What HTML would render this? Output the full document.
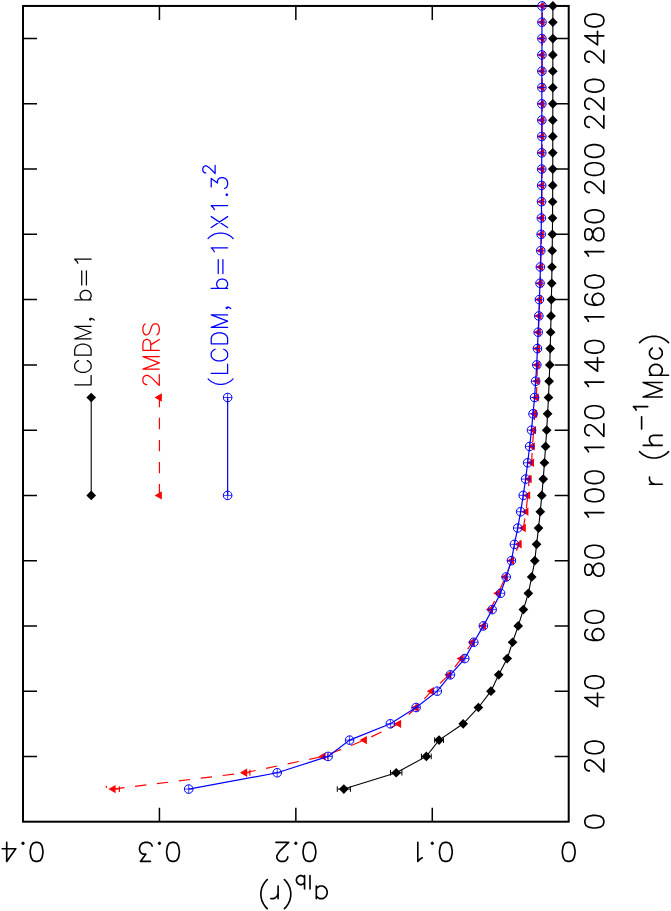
<!DOCTYPE html>
<html><head><meta charset="utf-8"><title>a_lb(r)</title>
<style>
html,body{margin:0;padding:0;background:#fff;font-family:"Liberation Sans",sans-serif;}
svg{display:block;}
</style></head>
<body>
<svg width="671" height="911" viewBox="0 0 671 911">
<rect width="671" height="911" fill="#fff"/>
<rect x="23.00" y="5.95" width="545.70" height="815.75" fill="none" stroke="#000" stroke-width="2"/>
<path d="M568.70 756.44 H554.70 M23.00 756.44 H37.00 M568.70 691.18 H554.70 M23.00 691.18 H37.00 M568.70 625.92 H554.70 M23.00 625.92 H37.00 M568.70 560.66 H554.70 M23.00 560.66 H37.00 M568.70 495.40 H554.70 M23.00 495.40 H37.00 M568.70 430.14 H554.70 M23.00 430.14 H37.00 M568.70 364.88 H554.70 M23.00 364.88 H37.00 M568.70 299.62 H554.70 M23.00 299.62 H37.00 M568.70 234.36 H554.70 M23.00 234.36 H37.00 M568.70 169.10 H554.70 M23.00 169.10 H37.00 M568.70 103.84 H554.70 M23.00 103.84 H37.00 M568.70 38.58 H554.70 M23.00 38.58 H37.00 M432.28 821.70 V807.70 M432.28 5.95 V19.95 M295.85 821.70 V807.70 M295.85 5.95 V19.95 M159.43 821.70 V807.70 M159.43 5.95 V19.95" fill="none" stroke="#000" stroke-width="1.5"/>
<path d="M584.85 822.61 L585.75 825.32 L588.47 827.13 L592.99 828.04 L595.71 828.04 L600.23 827.13 L602.95 825.32 L603.85 822.61 L603.85 820.80 L602.95 818.08 L600.23 816.27 L595.71 815.37 L592.99 815.37 L588.47 816.27 L585.75 818.08 L584.85 820.80 L584.85 822.61 M589.37 770.92 L588.47 770.92 L586.65 770.02 L585.75 769.11 L584.85 767.30 L584.85 763.68 L585.75 761.87 L586.65 760.97 L588.47 760.06 L590.27 760.06 L592.09 760.97 L594.80 762.78 L603.85 771.83 L603.85 759.16 M584.85 748.30 L585.75 751.01 L588.47 752.82 L592.99 753.73 L595.71 753.73 L600.23 752.82 L602.95 751.01 L603.85 748.30 L603.85 746.49 L602.95 743.77 L600.23 741.96 L595.71 741.06 L592.99 741.06 L588.47 741.96 L585.75 743.77 L584.85 746.49 L584.85 748.30 M584.85 697.52 L597.51 706.57 L597.51 692.99 M584.85 697.52 L603.85 697.52 M584.85 683.04 L585.75 685.75 L588.47 687.56 L592.99 688.47 L595.71 688.47 L600.23 687.56 L602.95 685.75 L603.85 683.04 L603.85 681.23 L602.95 678.51 L600.23 676.70 L595.71 675.80 L592.99 675.80 L588.47 676.70 L585.75 678.51 L584.85 681.23 L584.85 683.04 M587.56 629.54 L585.75 630.45 L584.85 633.16 L584.85 634.97 L585.75 637.69 L588.47 639.50 L592.99 640.40 L597.51 640.40 L601.13 639.50 L602.95 637.69 L603.85 634.97 L603.85 634.07 L602.95 631.35 L601.13 629.54 L598.42 628.64 L597.51 628.64 L594.80 629.54 L592.99 631.35 L592.09 634.07 L592.09 634.97 L592.99 637.69 L594.80 639.50 L597.51 640.40 M584.85 617.78 L585.75 620.49 L588.47 622.30 L592.99 623.21 L595.71 623.21 L600.23 622.30 L602.95 620.49 L603.85 617.78 L603.85 615.97 L602.95 613.25 L600.23 611.44 L595.71 610.54 L592.99 610.54 L588.47 611.44 L585.75 613.25 L584.85 615.97 L584.85 617.78 M584.85 571.52 L585.75 574.24 L587.56 575.14 L589.37 575.14 L591.18 574.24 L592.09 572.43 L592.99 568.81 L593.89 566.09 L595.71 564.28 L597.51 563.38 L600.23 563.38 L602.04 564.28 L602.95 565.19 L603.85 567.90 L603.85 571.52 L602.95 574.24 L602.04 575.14 L600.23 576.05 L597.51 576.05 L595.71 575.14 L593.89 573.33 L592.99 570.62 L592.09 567.00 L591.18 565.19 L589.37 564.28 L587.56 564.28 L585.75 565.19 L584.85 567.90 L584.85 571.52 M584.85 552.52 L585.75 555.23 L588.47 557.04 L592.99 557.95 L595.71 557.95 L600.23 557.04 L602.95 555.23 L603.85 552.52 L603.85 550.71 L602.95 547.99 L600.23 546.18 L595.71 545.28 L592.99 545.28 L588.47 546.18 L585.75 547.99 L584.85 550.71 L584.85 552.52 M588.47 517.12 L587.56 515.31 L584.85 512.60 L603.85 512.60 M584.85 496.31 L585.75 499.02 L588.47 500.83 L592.99 501.74 L595.71 501.74 L600.23 500.83 L602.95 499.02 L603.85 496.31 L603.85 494.50 L602.95 491.78 L600.23 489.97 L595.71 489.07 L592.99 489.07 L588.47 489.97 L585.75 491.78 L584.85 494.50 L584.85 496.31 M584.85 478.21 L585.75 480.92 L588.47 482.73 L592.99 483.64 L595.71 483.64 L600.23 482.73 L602.95 480.92 L603.85 478.21 L603.85 476.40 L602.95 473.68 L600.23 471.87 L595.71 470.97 L592.99 470.97 L588.47 471.87 L585.75 473.68 L584.85 476.40 L584.85 478.21 M588.47 451.86 L587.56 450.05 L584.85 447.34 L603.85 447.34 M589.37 435.57 L588.47 435.57 L586.65 434.67 L585.75 433.76 L584.85 431.95 L584.85 428.33 L585.75 426.52 L586.65 425.62 L588.47 424.71 L590.27 424.71 L592.09 425.62 L594.80 427.43 L603.85 436.48 L603.85 423.81 M584.85 412.95 L585.75 415.66 L588.47 417.47 L592.99 418.38 L595.71 418.38 L600.23 417.47 L602.95 415.66 L603.85 412.95 L603.85 411.14 L602.95 408.42 L600.23 406.61 L595.71 405.71 L592.99 405.71 L588.47 406.61 L585.75 408.42 L584.85 411.14 L584.85 412.95 M588.47 386.60 L587.56 384.79 L584.85 382.08 L603.85 382.08 M584.85 362.17 L597.51 371.22 L597.51 357.64 M584.85 362.17 L603.85 362.17 M584.85 347.69 L585.75 350.40 L588.47 352.21 L592.99 353.12 L595.71 353.12 L600.23 352.21 L602.95 350.40 L603.85 347.69 L603.85 345.88 L602.95 343.16 L600.23 341.35 L595.71 340.45 L592.99 340.45 L588.47 341.35 L585.75 343.16 L584.85 345.88 L584.85 347.69 M588.47 321.34 L587.56 319.53 L584.85 316.81 L603.85 316.81 M587.56 294.19 L585.75 295.10 L584.85 297.81 L584.85 299.62 L585.75 302.33 L588.47 304.14 L592.99 305.05 L597.51 305.05 L601.13 304.14 L602.95 302.33 L603.85 299.62 L603.85 298.72 L602.95 296.00 L601.13 294.19 L598.42 293.29 L597.51 293.29 L594.80 294.19 L592.99 296.00 L592.09 298.72 L592.09 299.62 L592.99 302.33 L594.80 304.14 L597.51 305.05 M584.85 282.43 L585.75 285.14 L588.47 286.95 L592.99 287.86 L595.71 287.86 L600.23 286.95 L602.95 285.14 L603.85 282.43 L603.85 280.62 L602.95 277.90 L600.23 276.09 L595.71 275.19 L592.99 275.19 L588.47 276.09 L585.75 277.90 L584.85 280.62 L584.85 282.43 M588.47 256.08 L587.56 254.27 L584.85 251.56 L603.85 251.56 M584.85 236.17 L585.75 238.89 L587.56 239.79 L589.37 239.79 L591.18 238.89 L592.09 237.08 L592.99 233.46 L593.89 230.74 L595.71 228.93 L597.51 228.03 L600.23 228.03 L602.04 228.93 L602.95 229.84 L603.85 232.55 L603.85 236.17 L602.95 238.89 L602.04 239.79 L600.23 240.70 L597.51 240.70 L595.71 239.79 L593.89 237.98 L592.99 235.27 L592.09 231.65 L591.18 229.84 L589.37 228.93 L587.56 228.93 L585.75 229.84 L584.85 232.55 L584.85 236.17 M584.85 217.17 L585.75 219.88 L588.47 221.69 L592.99 222.60 L595.71 222.60 L600.23 221.69 L602.95 219.88 L603.85 217.17 L603.85 215.36 L602.95 212.64 L600.23 210.83 L595.71 209.93 L592.99 209.93 L588.47 210.83 L585.75 212.64 L584.85 215.36 L584.85 217.17 M589.37 192.63 L588.47 192.63 L586.65 191.73 L585.75 190.82 L584.85 189.01 L584.85 185.39 L585.75 183.58 L586.65 182.68 L588.47 181.77 L590.27 181.77 L592.09 182.68 L594.80 184.49 L603.85 193.54 L603.85 180.87 M584.85 170.01 L585.75 172.72 L588.47 174.53 L592.99 175.44 L595.71 175.44 L600.23 174.53 L602.95 172.72 L603.85 170.01 L603.85 168.20 L602.95 165.48 L600.23 163.67 L595.71 162.77 L592.99 162.77 L588.47 163.67 L585.75 165.48 L584.85 168.20 L584.85 170.01 M584.85 151.91 L585.75 154.62 L588.47 156.43 L592.99 157.34 L595.71 157.34 L600.23 156.43 L602.95 154.62 L603.85 151.91 L603.85 150.10 L602.95 147.38 L600.23 145.57 L595.71 144.67 L592.99 144.67 L588.47 145.57 L585.75 147.38 L584.85 150.10 L584.85 151.91 M589.37 127.37 L588.47 127.37 L586.65 126.47 L585.75 125.56 L584.85 123.75 L584.85 120.13 L585.75 118.32 L586.65 117.42 L588.47 116.51 L590.27 116.51 L592.09 117.42 L594.80 119.23 L603.85 128.28 L603.85 115.61 M589.37 109.27 L588.47 109.27 L586.65 108.37 L585.75 107.46 L584.85 105.65 L584.85 102.03 L585.75 100.22 L586.65 99.32 L588.47 98.41 L590.27 98.41 L592.09 99.32 L594.80 101.13 L603.85 110.18 L603.85 97.51 M584.85 86.65 L585.75 89.36 L588.47 91.17 L592.99 92.08 L595.71 92.08 L600.23 91.17 L602.95 89.36 L603.85 86.65 L603.85 84.84 L602.95 82.12 L600.23 80.31 L595.71 79.41 L592.99 79.41 L588.47 80.31 L585.75 82.12 L584.85 84.84 L584.85 86.65 M589.37 62.11 L588.47 62.11 L586.65 61.21 L585.75 60.30 L584.85 58.49 L584.85 54.87 L585.75 53.06 L586.65 52.16 L588.47 51.25 L590.27 51.25 L592.09 52.16 L594.80 53.97 L603.85 63.02 L603.85 50.35 M584.85 35.87 L597.51 44.92 L597.51 31.34 M584.85 35.87 L603.85 35.87 M584.85 21.39 L585.75 24.10 L588.47 25.91 L592.99 26.82 L595.71 26.82 L600.23 25.91 L602.95 24.10 L603.85 21.39 L603.85 19.58 L602.95 16.86 L600.23 15.05 L595.71 14.15 L592.99 14.15 L588.47 15.05 L585.75 16.86 L584.85 19.58 L584.85 21.39 M569.61 861.40 L572.32 860.50 L574.13 857.78 L575.04 853.26 L575.04 850.54 L574.13 846.02 L572.32 843.30 L569.61 842.40 L567.80 842.40 L565.08 843.30 L563.27 846.02 L562.37 850.54 L562.37 853.26 L563.27 857.78 L565.08 860.50 L567.80 861.40 L569.61 861.40 M446.76 861.40 L449.47 860.50 L451.28 857.78 L452.19 853.26 L452.19 850.54 L451.28 846.02 L449.47 843.30 L446.76 842.40 L444.95 842.40 L442.23 843.30 L440.42 846.02 L439.52 850.54 L439.52 853.26 L440.42 857.78 L442.23 860.50 L444.95 861.40 L446.76 861.40 M432.28 844.21 L433.18 843.30 L432.28 842.40 L431.37 843.30 L432.28 844.21 M422.32 857.78 L420.51 858.69 L417.80 861.40 L417.80 842.40 M310.33 861.40 L313.05 860.50 L314.86 857.78 L315.76 853.26 L315.76 850.54 L314.86 846.02 L313.05 843.30 L310.33 842.40 L308.52 842.40 L305.81 843.30 L304.00 846.02 L303.09 850.54 L303.09 853.26 L304.00 857.78 L305.81 860.50 L308.52 861.40 L310.33 861.40 M295.85 844.21 L296.75 843.30 L295.85 842.40 L294.95 843.30 L295.85 844.21 M287.71 856.88 L287.71 857.78 L286.80 859.60 L285.90 860.50 L284.09 861.40 L280.47 861.40 L278.66 860.50 L277.75 859.60 L276.85 857.78 L276.85 855.98 L277.75 854.16 L279.56 851.45 L288.61 842.40 L275.94 842.40 M173.91 861.40 L176.62 860.50 L178.43 857.78 L179.34 853.26 L179.34 850.54 L178.43 846.02 L176.62 843.30 L173.91 842.40 L172.10 842.40 L169.38 843.30 L167.57 846.02 L166.67 850.54 L166.67 853.26 L167.57 857.78 L169.38 860.50 L172.10 861.40 L173.91 861.40 M159.43 844.21 L160.33 843.30 L159.43 842.40 L158.52 843.30 L159.43 844.21 M150.38 861.40 L140.42 861.40 L145.85 854.16 L143.14 854.16 L141.33 853.26 L140.42 852.36 L139.52 849.64 L139.52 847.83 L140.42 845.12 L142.23 843.30 L144.95 842.40 L147.66 842.40 L150.38 843.30 L151.28 844.21 L152.19 846.02 M37.48 861.40 L40.20 860.50 L42.00 857.78 L42.91 853.26 L42.91 850.54 L42.00 846.02 L40.20 843.30 L37.48 842.40 L35.67 842.40 L32.95 843.30 L31.14 846.02 L30.24 850.54 L30.24 853.26 L31.15 857.78 L32.95 860.50 L35.67 861.40 L37.48 861.40 M23.00 844.21 L23.91 843.30 L23.00 842.40 L22.09 843.30 L23.00 844.21 M6.71 861.40 L15.76 848.74 L2.18 848.74 M6.71 861.40 L6.71 842.40 M649.53 484.28 L662.20 484.28 M654.96 484.28 L652.25 483.38 L650.44 481.56 L649.53 479.75 L649.53 477.04 M639.58 451.70 L641.38 453.51 L644.10 455.32 L647.72 457.13 L652.25 458.03 L655.87 458.03 L660.39 457.13 L664.01 455.32 L666.73 453.51 L668.54 451.70 M643.20 445.36 L662.20 445.36 M653.15 445.36 L650.44 442.65 L649.53 440.84 L649.53 438.12 L650.44 436.31 L653.15 435.41 L662.20 435.41 M641.61 429.07 L641.61 416.86 M636.18 410.07 L635.50 408.71 L633.47 406.68 L647.72 406.68 M643.20 396.95 L662.20 396.95 M643.20 396.95 L662.20 389.71 M643.20 382.47 L662.20 389.71 M643.20 382.47 L662.20 382.47 M649.53 375.23 L668.54 375.23 M652.25 375.23 L650.44 373.42 L649.53 371.61 L649.53 368.89 L650.44 367.08 L652.25 365.27 L654.96 364.37 L656.77 364.37 L659.49 365.27 L661.30 367.08 L662.20 368.89 L662.20 371.61 L661.30 373.42 L659.49 375.23 M652.25 348.08 L650.44 349.89 L649.53 351.70 L649.53 354.41 L650.44 356.22 L652.25 358.03 L654.96 358.94 L656.77 358.94 L659.49 358.03 L661.30 356.22 L662.20 354.41 L662.20 351.70 L661.30 349.89 L659.49 348.08 M639.58 342.65 L641.38 340.84 L644.10 339.03 L647.72 337.22 L652.25 336.31 L655.87 336.31 L660.39 337.22 L664.01 339.03 L666.73 340.84 L668.54 342.65 M316.32 898.67 L316.32 886.00 M316.32 895.96 L318.13 897.76 L319.94 898.67 L322.66 898.67 L324.47 897.76 L326.28 895.96 L327.19 893.24 L327.19 891.43 L326.28 888.72 L324.47 886.90 L322.66 886.00 L319.94 886.00 L318.13 886.90 L316.32 888.72 M309.99 888.99 L309.99 875.68 M304.56 888.99 L304.56 875.68 M304.56 882.65 L303.20 883.92 L301.84 884.55 L299.81 884.55 L298.45 883.92 L297.09 882.65 L296.41 880.75 L296.41 879.48 L297.09 877.58 L298.45 876.32 L299.81 875.68 L301.84 875.68 L303.20 876.32 L304.56 877.58 M284.42 908.62 L286.23 906.82 L288.04 904.10 L289.85 900.48 L290.76 895.96 L290.76 892.34 L289.85 887.81 L288.04 884.19 L286.23 881.48 L284.42 879.66 M278.09 898.67 L278.09 886.00 M278.09 893.24 L277.18 895.96 L275.37 897.76 L273.56 898.67 L270.85 898.67 M267.23 908.62 L265.42 906.82 L263.61 904.10 L261.80 900.48 L260.89 895.96 L260.89 892.34 L261.80 887.81 L263.61 884.19 L265.42 881.48 L267.23 879.66" fill="none" stroke="#000" stroke-width="1.65" stroke-linecap="round" stroke-linejoin="round"/>
<path d="M343.84 789.07 L396.22 772.75 L426.33 756.44 L439.06 740.12 L463.19 723.81 L478.40 707.50 L490.95 691.18 L498.70 674.87 L507.21 658.55 L512.55 642.24 L518.22 625.92 L523.38 609.61 L528.37 593.29 L531.72 576.98 L534.80 560.66 L536.57 544.35 L538.52 528.03 L540.28 511.72 L541.78 495.40 L543.23 479.09 L544.42 462.77 L545.59 446.46 L546.69 430.14 L547.60 413.83 L548.51 397.51 L549.14 381.20 L549.81 364.88 L550.19 348.57 L550.65 332.25 L551.01 315.94 L551.36 299.62 L551.72 283.31 L551.95 266.99 L552.19 250.68 L552.41 234.36 L552.53 218.05 L552.64 201.73 L552.71 185.42 L552.74 169.10 L552.77 152.79 L552.78 136.47 L552.79 120.16 L552.81 103.84 L552.82 87.53 L552.83 71.21 L552.85 54.90 L552.86 38.58 L552.87 22.27 L552.89 5.95" fill="none" stroke="#000" stroke-width="1.1"/>
<path d="M337.28 789.07 H350.40 M337.28 786.27 V791.87 M350.40 786.27 V791.87 M390.52 772.75 H401.92 M390.52 769.96 V775.55 M401.92 769.96 V775.55 M421.43 756.44 H431.23 M421.43 753.64 V759.24 M431.23 753.64 V759.24 M434.66 740.12 H443.46 M434.66 737.33 V742.92 M443.46 737.33 V742.92" fill="none" stroke="#000" stroke-width="1"/>
<path d="M338.99 789.07 L343.84 784.22 L348.69 789.07 L343.84 793.92Z M391.37 772.75 L396.22 767.90 L401.07 772.75 L396.22 777.61Z M421.48 756.44 L426.33 751.59 L431.18 756.44 L426.33 761.29Z M434.21 740.12 L439.06 735.27 L443.91 740.12 L439.06 744.98Z M458.34 723.81 L463.19 718.96 L468.04 723.81 L463.19 728.66Z M473.55 707.50 L478.40 702.64 L483.25 707.50 L478.40 712.35Z M486.10 691.18 L490.95 686.33 L495.80 691.18 L490.95 696.03Z M493.85 674.87 L498.70 670.01 L503.55 674.87 L498.70 679.72Z M502.36 658.55 L507.21 653.70 L512.06 658.55 L507.21 663.40Z M507.70 642.24 L512.55 637.38 L517.40 642.24 L512.55 647.09Z M513.37 625.92 L518.22 621.07 L523.07 625.92 L518.22 630.77Z M518.53 609.61 L523.38 604.75 L528.23 609.61 L523.38 614.46Z M523.52 593.29 L528.37 588.44 L533.22 593.29 L528.37 598.14Z M526.87 576.98 L531.72 572.12 L536.57 576.98 L531.72 581.83Z M529.95 560.66 L534.80 555.81 L539.65 560.66 L534.80 565.51Z M531.72 544.35 L536.57 539.50 L541.42 544.35 L536.57 549.20Z M533.67 528.03 L538.52 523.18 L543.37 528.03 L538.52 532.88Z M535.43 511.72 L540.28 506.87 L545.13 511.72 L540.28 516.57Z M536.93 495.40 L541.78 490.55 L546.63 495.40 L541.78 500.25Z M538.38 479.09 L543.23 474.24 L548.08 479.09 L543.23 483.94Z M539.57 462.77 L544.42 457.92 L549.27 462.77 L544.42 467.62Z M540.74 446.46 L545.59 441.61 L550.44 446.46 L545.59 451.31Z M541.84 430.14 L546.69 425.29 L551.54 430.14 L546.69 434.99Z M542.75 413.83 L547.60 408.98 L552.45 413.83 L547.60 418.68Z M543.66 397.51 L548.51 392.66 L553.36 397.51 L548.51 402.36Z M544.29 381.20 L549.14 376.35 L553.99 381.20 L549.14 386.05Z M544.96 364.88 L549.81 360.03 L554.66 364.88 L549.81 369.73Z M545.34 348.57 L550.19 343.72 L555.04 348.57 L550.19 353.42Z M545.80 332.25 L550.65 327.40 L555.50 332.25 L550.65 337.10Z M546.16 315.94 L551.01 311.09 L555.86 315.94 L551.01 320.79Z M546.51 299.62 L551.36 294.77 L556.21 299.62 L551.36 304.47Z M546.87 283.31 L551.72 278.46 L556.57 283.31 L551.72 288.16Z M547.10 266.99 L551.95 262.14 L556.80 266.99 L551.95 271.84Z M547.34 250.68 L552.19 245.83 L557.04 250.68 L552.19 255.53Z M547.56 234.36 L552.41 229.51 L557.26 234.36 L552.41 239.21Z M547.68 218.05 L552.53 213.20 L557.38 218.05 L552.53 222.90Z M547.79 201.73 L552.64 196.88 L557.49 201.73 L552.64 206.58Z M547.86 185.42 L552.71 180.57 L557.56 185.42 L552.71 190.27Z M547.89 169.10 L552.74 164.25 L557.59 169.10 L552.74 173.95Z M547.92 152.79 L552.77 147.94 L557.62 152.79 L552.77 157.64Z M547.93 136.47 L552.78 131.62 L557.63 136.47 L552.78 141.32Z M547.94 120.16 L552.79 115.31 L557.64 120.16 L552.79 125.01Z M547.96 103.84 L552.81 98.99 L557.66 103.84 L552.81 108.69Z M547.97 87.53 L552.82 82.68 L557.67 87.53 L552.82 92.38Z M547.98 71.21 L552.83 66.36 L557.68 71.21 L552.83 76.06Z M548.00 54.90 L552.85 50.05 L557.70 54.90 L552.85 59.75Z M548.01 38.58 L552.86 33.73 L557.71 38.58 L552.86 43.43Z M548.02 22.27 L552.87 17.42 L557.72 22.27 L552.87 27.12Z M548.04 5.95 L552.89 1.10 L557.74 5.95 L552.89 10.80Z" fill="#000"/>
<path d="M91.21 495.40 V397.51" stroke="#000" stroke-width="1.1"/>
<path d="M86.36 495.40 L91.21 490.55 L96.06 495.40 L91.21 500.25Z M86.36 397.51 L91.21 392.66 L96.06 397.51 L91.21 402.36Z" fill="#000"/>
<path d="M113.18 789.07 L244.75 772.75 L323.14 756.44 L364.47 740.12 L398.71 723.81 L416.31 707.50 L431.46 691.18 L449.06 674.87 L461.33 658.55 L472.38 642.24 L483.57 625.92 L490.66 609.61 L498.03 593.29 L505.54 576.98 L511.67 560.66 L519.31 544.35 L523.41 528.03 L526.00 511.72 L527.77 495.40 L529.27 479.09 L531.65 462.77 L532.41 446.46 L533.64 430.14 L534.73 413.83 L536.23 397.51 L537.05 381.20 L537.32 364.88 L537.69 348.57 L538.47 332.25 L539.07 315.94 L539.67 299.62 L540.27 283.31 L540.66 266.99 L541.08 250.68 L541.44 234.36 L541.65 218.05 L541.84 201.73 L541.95 185.42 L542.00 169.10 L542.04 152.79 L542.07 136.47 L542.09 120.16 L542.11 103.84 L542.14 87.53 L542.16 71.21 L542.18 54.90 L542.21 38.58 L542.23 22.27 L542.25 5.95" fill="none" stroke="#ff0000" stroke-width="1.2" stroke-dasharray="11.4 10.65"/>
<path d="M113.18 789.07 H119.38 M119.38 786.17 V791.97 M244.75 772.75 H249.95 M249.95 769.86 V775.65 M323.14 756.44 H327.74 M327.74 753.54 V759.34 M106.28 785.87 v2.1" fill="none" stroke="#ff0000" stroke-width="1.1"/>
<path d="M108.38 789.07 L115.58 784.91 L115.58 793.23Z M239.95 772.75 L247.15 768.60 L247.15 776.91Z M318.34 756.44 L325.54 752.28 L325.54 760.60Z M359.67 740.12 L366.87 735.97 L366.87 744.28Z M393.91 723.81 L401.11 719.65 L401.11 727.97Z M411.51 707.50 L418.71 703.34 L418.71 711.65Z M426.66 691.18 L433.86 687.02 L433.86 695.34Z M444.26 674.87 L451.46 670.71 L451.46 679.02Z M456.53 658.55 L463.73 654.39 L463.73 662.71Z M467.58 642.24 L474.78 638.08 L474.78 646.39Z M478.77 625.92 L485.97 621.76 L485.97 630.08Z M485.86 609.61 L493.06 605.45 L493.06 613.76Z M493.23 593.29 L500.43 589.13 L500.43 597.45Z M500.74 576.98 L507.94 572.82 L507.94 581.13Z M506.87 560.66 L514.07 556.50 L514.07 564.82Z M514.51 544.35 L521.71 540.19 L521.71 548.50Z M518.61 528.03 L525.81 523.87 L525.81 532.19Z M521.20 511.72 L528.40 507.56 L528.40 515.87Z M522.97 495.40 L530.17 491.24 L530.17 499.56Z M524.47 479.09 L531.67 474.93 L531.67 483.24Z M526.85 462.77 L534.05 458.61 L534.05 466.93Z M527.61 446.46 L534.81 442.30 L534.81 450.61Z M528.84 430.14 L536.04 425.98 L536.04 434.30Z M529.93 413.83 L537.13 409.67 L537.13 417.98Z M531.43 397.51 L538.63 393.35 L538.63 401.67Z M532.25 381.20 L539.45 377.04 L539.45 385.35Z M532.52 364.88 L539.72 360.72 L539.72 369.04Z M532.89 348.57 L540.09 344.41 L540.09 352.72Z M533.67 332.25 L540.87 328.09 L540.87 336.41Z M534.27 315.94 L541.47 311.78 L541.47 320.09Z M534.87 299.62 L542.07 295.46 L542.07 303.78Z M535.47 283.31 L542.67 279.15 L542.67 287.46Z M535.86 266.99 L543.06 262.83 L543.06 271.15Z M536.28 250.68 L543.48 246.52 L543.48 254.83Z M536.64 234.36 L543.84 230.20 L543.84 238.52Z M536.85 218.05 L544.05 213.89 L544.05 222.20Z M537.04 201.73 L544.24 197.57 L544.24 205.89Z M537.15 185.42 L544.35 181.26 L544.35 189.57Z M537.20 169.10 L544.40 164.94 L544.40 173.26Z M537.24 152.79 L544.44 148.63 L544.44 156.94Z M537.27 136.47 L544.47 132.31 L544.47 140.63Z M537.29 120.16 L544.49 116.00 L544.49 124.31Z M537.31 103.84 L544.51 99.68 L544.51 108.00Z M537.34 87.53 L544.54 83.37 L544.54 91.68Z M537.36 71.21 L544.56 67.05 L544.56 75.37Z M537.38 54.90 L544.58 50.74 L544.58 59.05Z M537.41 38.58 L544.61 34.42 L544.61 42.74Z M537.43 22.27 L544.63 18.11 L544.63 26.42Z M537.45 5.95 L544.65 1.79 L544.65 10.11Z" fill="#ff0000"/>
<path d="M159.43 495.40 V397.51" stroke="#ff0000" stroke-width="1.2" stroke-dasharray="11.4 10.65"/>
<path d="M154.63 495.40 L161.83 491.24 L161.83 499.56Z M154.63 397.51 L161.83 393.35 L161.83 401.67Z" fill="#ff0000"/>
<path d="M188.69 789.07 L277.21 772.75 L328.09 756.44 L349.60 740.12 L390.39 723.81 L416.09 707.50 L437.30 691.18 L450.40 674.87 L464.79 658.55 L473.80 642.24 L483.39 625.92 L492.11 609.61 L500.55 593.29 L506.20 576.98 L511.41 560.66 L514.40 544.35 L517.70 528.03 L520.67 511.72 L523.21 495.40 L525.65 479.09 L527.66 462.77 L529.64 446.46 L531.51 430.14 L533.03 413.83 L534.58 397.51 L535.64 381.20 L536.77 364.88 L537.41 348.57 L538.20 332.25 L538.80 315.94 L539.40 299.62 L540.00 283.31 L540.39 266.99 L540.80 250.68 L541.17 234.36 L541.38 218.05 L541.56 201.73 L541.68 185.42 L541.72 169.10 L541.77 152.79 L541.79 136.47 L541.82 120.16 L541.84 103.84 L541.86 87.53 L541.89 71.21 L541.91 54.90 L541.93 38.58 L541.96 22.27 L541.98 5.95" fill="none" stroke="#0000ff" stroke-width="1.2"/>
<path d="M227.64 495.40 V397.51" stroke="#0000ff" stroke-width="1.2"/>
<path d="M184.39 789.07 a4.30 4.30 0 1 0 8.60 0 a4.30 4.30 0 1 0 -8.60 0 M272.91 772.75 a4.30 4.30 0 1 0 8.60 0 a4.30 4.30 0 1 0 -8.60 0 M323.79 756.44 a4.30 4.30 0 1 0 8.60 0 a4.30 4.30 0 1 0 -8.60 0 M345.30 740.12 a4.30 4.30 0 1 0 8.60 0 a4.30 4.30 0 1 0 -8.60 0 M386.09 723.81 a4.30 4.30 0 1 0 8.60 0 a4.30 4.30 0 1 0 -8.60 0 M411.79 707.50 a4.30 4.30 0 1 0 8.60 0 a4.30 4.30 0 1 0 -8.60 0 M433.00 691.18 a4.30 4.30 0 1 0 8.60 0 a4.30 4.30 0 1 0 -8.60 0 M446.10 674.87 a4.30 4.30 0 1 0 8.60 0 a4.30 4.30 0 1 0 -8.60 0 M460.49 658.55 a4.30 4.30 0 1 0 8.60 0 a4.30 4.30 0 1 0 -8.60 0 M469.50 642.24 a4.30 4.30 0 1 0 8.60 0 a4.30 4.30 0 1 0 -8.60 0 M479.09 625.92 a4.30 4.30 0 1 0 8.60 0 a4.30 4.30 0 1 0 -8.60 0 M487.81 609.61 a4.30 4.30 0 1 0 8.60 0 a4.30 4.30 0 1 0 -8.60 0 M496.25 593.29 a4.30 4.30 0 1 0 8.60 0 a4.30 4.30 0 1 0 -8.60 0 M501.90 576.98 a4.30 4.30 0 1 0 8.60 0 a4.30 4.30 0 1 0 -8.60 0 M507.11 560.66 a4.30 4.30 0 1 0 8.60 0 a4.30 4.30 0 1 0 -8.60 0 M510.10 544.35 a4.30 4.30 0 1 0 8.60 0 a4.30 4.30 0 1 0 -8.60 0 M513.40 528.03 a4.30 4.30 0 1 0 8.60 0 a4.30 4.30 0 1 0 -8.60 0 M516.37 511.72 a4.30 4.30 0 1 0 8.60 0 a4.30 4.30 0 1 0 -8.60 0 M518.91 495.40 a4.30 4.30 0 1 0 8.60 0 a4.30 4.30 0 1 0 -8.60 0 M521.35 479.09 a4.30 4.30 0 1 0 8.60 0 a4.30 4.30 0 1 0 -8.60 0 M523.36 462.77 a4.30 4.30 0 1 0 8.60 0 a4.30 4.30 0 1 0 -8.60 0 M525.34 446.46 a4.30 4.30 0 1 0 8.60 0 a4.30 4.30 0 1 0 -8.60 0 M527.21 430.14 a4.30 4.30 0 1 0 8.60 0 a4.30 4.30 0 1 0 -8.60 0 M528.73 413.83 a4.30 4.30 0 1 0 8.60 0 a4.30 4.30 0 1 0 -8.60 0 M530.28 397.51 a4.30 4.30 0 1 0 8.60 0 a4.30 4.30 0 1 0 -8.60 0 M531.34 381.20 a4.30 4.30 0 1 0 8.60 0 a4.30 4.30 0 1 0 -8.60 0 M532.47 364.88 a4.30 4.30 0 1 0 8.60 0 a4.30 4.30 0 1 0 -8.60 0 M533.11 348.57 a4.30 4.30 0 1 0 8.60 0 a4.30 4.30 0 1 0 -8.60 0 M533.90 332.25 a4.30 4.30 0 1 0 8.60 0 a4.30 4.30 0 1 0 -8.60 0 M534.50 315.94 a4.30 4.30 0 1 0 8.60 0 a4.30 4.30 0 1 0 -8.60 0 M535.10 299.62 a4.30 4.30 0 1 0 8.60 0 a4.30 4.30 0 1 0 -8.60 0 M535.70 283.31 a4.30 4.30 0 1 0 8.60 0 a4.30 4.30 0 1 0 -8.60 0 M536.09 266.99 a4.30 4.30 0 1 0 8.60 0 a4.30 4.30 0 1 0 -8.60 0 M536.50 250.68 a4.30 4.30 0 1 0 8.60 0 a4.30 4.30 0 1 0 -8.60 0 M536.87 234.36 a4.30 4.30 0 1 0 8.60 0 a4.30 4.30 0 1 0 -8.60 0 M537.08 218.05 a4.30 4.30 0 1 0 8.60 0 a4.30 4.30 0 1 0 -8.60 0 M537.26 201.73 a4.30 4.30 0 1 0 8.60 0 a4.30 4.30 0 1 0 -8.60 0 M537.38 185.42 a4.30 4.30 0 1 0 8.60 0 a4.30 4.30 0 1 0 -8.60 0 M537.42 169.10 a4.30 4.30 0 1 0 8.60 0 a4.30 4.30 0 1 0 -8.60 0 M537.47 152.79 a4.30 4.30 0 1 0 8.60 0 a4.30 4.30 0 1 0 -8.60 0 M537.49 136.47 a4.30 4.30 0 1 0 8.60 0 a4.30 4.30 0 1 0 -8.60 0 M537.52 120.16 a4.30 4.30 0 1 0 8.60 0 a4.30 4.30 0 1 0 -8.60 0 M537.54 103.84 a4.30 4.30 0 1 0 8.60 0 a4.30 4.30 0 1 0 -8.60 0 M537.56 87.53 a4.30 4.30 0 1 0 8.60 0 a4.30 4.30 0 1 0 -8.60 0 M537.59 71.21 a4.30 4.30 0 1 0 8.60 0 a4.30 4.30 0 1 0 -8.60 0 M537.61 54.90 a4.30 4.30 0 1 0 8.60 0 a4.30 4.30 0 1 0 -8.60 0 M537.63 38.58 a4.30 4.30 0 1 0 8.60 0 a4.30 4.30 0 1 0 -8.60 0 M537.66 22.27 a4.30 4.30 0 1 0 8.60 0 a4.30 4.30 0 1 0 -8.60 0 M537.68 5.95 a4.30 4.30 0 1 0 8.60 0 a4.30 4.30 0 1 0 -8.60 0 M223.34 495.40 a4.30 4.30 0 1 0 8.60 0 a4.30 4.30 0 1 0 -8.60 0 M223.34 397.51 a4.30 4.30 0 1 0 8.60 0 a4.30 4.30 0 1 0 -8.60 0" fill="none" stroke="#0000ff" stroke-width="1"/>
<path d="M184.39 789.07 H192.99 M188.69 784.77 V793.37 M272.91 772.75 H281.51 M277.21 768.46 V777.05 M323.79 756.44 H332.39 M328.09 752.14 V760.74 M345.30 740.12 H353.90 M349.60 735.83 V744.42 M386.09 723.81 H394.69 M390.39 719.51 V728.11 M411.79 707.50 H420.39 M416.09 703.20 V711.79 M433.00 691.18 H441.60 M437.30 686.88 V695.48 M446.10 674.87 H454.70 M450.40 670.57 V679.16 M460.49 658.55 H469.09 M464.79 654.25 V662.85 M469.50 642.24 H478.10 M473.80 637.94 V646.53 M479.09 625.92 H487.69 M483.39 621.62 V630.22 M487.81 609.61 H496.41 M492.11 605.31 V613.90 M496.25 593.29 H504.85 M500.55 588.99 V597.59 M501.90 576.98 H510.50 M506.20 572.68 V581.27 M507.11 560.66 H515.71 M511.41 556.36 V564.96 M510.10 544.35 H518.70 M514.40 540.05 V548.64 M513.40 528.03 H522.00 M517.70 523.73 V532.33 M516.37 511.72 H524.97 M520.67 507.42 V516.01 M518.91 495.40 H527.51 M523.21 491.10 V499.70 M521.35 479.09 H529.95 M525.65 474.79 V483.39 M523.36 462.77 H531.96 M527.66 458.47 V467.07 M525.34 446.46 H533.94 M529.64 442.16 V450.76 M527.21 430.14 H535.81 M531.51 425.84 V434.44 M528.73 413.83 H537.33 M533.03 409.53 V418.13 M530.28 397.51 H538.88 M534.58 393.21 V401.81 M531.34 381.20 H539.94 M535.64 376.90 V385.50 M532.47 364.88 H541.07 M536.77 360.58 V369.18 M533.11 348.57 H541.71 M537.41 344.27 V352.87 M533.90 332.25 H542.50 M538.20 327.95 V336.55 M534.50 315.94 H543.10 M538.80 311.64 V320.24 M535.10 299.62 H543.70 M539.40 295.32 V303.92 M535.70 283.31 H544.30 M540.00 279.01 V287.61 M536.09 266.99 H544.69 M540.39 262.69 V271.29 M536.50 250.68 H545.10 M540.80 246.38 V254.98 M536.87 234.36 H545.47 M541.17 230.06 V238.66 M537.08 218.05 H545.68 M541.38 213.75 V222.35 M537.26 201.73 H545.86 M541.56 197.43 V206.03 M537.38 185.42 H545.98 M541.68 181.12 V189.72 M537.42 169.10 H546.02 M541.72 164.80 V173.40 M537.47 152.79 H546.07 M541.77 148.49 V157.09 M537.49 136.47 H546.09 M541.79 132.17 V140.77 M537.52 120.16 H546.12 M541.82 115.86 V124.46 M537.54 103.84 H546.14 M541.84 99.54 V108.14 M537.56 87.53 H546.16 M541.86 83.23 V91.83 M537.59 71.21 H546.19 M541.89 66.91 V75.51 M537.61 54.90 H546.21 M541.91 50.60 V59.20 M537.63 38.58 H546.23 M541.93 34.28 V42.88 M537.66 22.27 H546.26 M541.96 17.97 V26.57 M537.68 5.95 H546.28 M541.98 1.65 V10.25 M223.34 495.40 H231.94 M227.64 491.10 V499.70 M223.34 397.51 H231.94 M227.64 393.21 V401.81" fill="none" stroke="#0000ff" stroke-width="0.75"/>
<path d="M74.72 384.78 L91.10 384.78 M91.10 384.78 L91.10 375.42 M78.62 360.60 L77.06 361.38 L75.50 362.94 L74.72 364.50 L74.72 367.62 L75.50 369.18 L77.06 370.74 L78.62 371.52 L80.96 372.30 L84.86 372.30 L87.20 371.52 L88.76 370.74 L90.32 369.18 L91.10 367.62 L91.10 364.50 L90.32 362.94 L88.76 361.38 L87.20 360.60 M74.72 355.14 L91.10 355.14 M74.72 355.14 L74.72 349.68 L75.50 347.34 L77.06 345.78 L78.62 345.00 L80.96 344.22 L84.86 344.22 L87.20 345.00 L88.76 345.78 L90.32 347.34 L91.10 349.68 L91.10 355.14 M74.72 338.76 L91.10 338.76 M74.72 338.76 L91.10 332.52 M74.72 326.28 L91.10 332.52 M74.72 326.28 L91.10 326.28 M90.32 318.48 L91.10 319.26 L90.32 320.04 L89.54 319.26 L90.32 318.48 L91.88 318.48 L93.44 319.26 L94.22 320.04 M74.72 299.76 L91.10 299.76 M82.52 299.76 L80.96 298.20 L80.18 296.64 L80.18 294.30 L80.96 292.74 L82.52 291.18 L84.86 290.40 L86.42 290.40 L88.76 291.18 L90.32 292.74 L91.10 294.30 L91.10 296.64 L90.32 298.20 L88.76 299.76 M81.74 284.94 L81.74 270.90 M86.42 284.94 L86.42 270.90 M77.84 263.10 L77.06 261.54 L74.72 259.20 L91.10 259.20" fill="none" stroke="#000" stroke-width="1.25" stroke-linecap="round" stroke-linejoin="round"/>
<path d="M146.82 384.68 L146.04 384.68 L144.48 383.90 L143.70 383.12 L142.92 381.56 L142.92 378.44 L143.70 376.88 L144.48 376.10 L146.04 375.32 L147.60 375.32 L149.16 376.10 L151.50 377.66 L159.30 385.46 L159.30 374.54 M142.92 369.08 L159.30 369.08 M142.92 369.08 L159.30 362.84 M142.92 356.60 L159.30 362.84 M142.92 356.60 L159.30 356.60 M142.92 350.36 L159.30 350.36 M142.92 350.36 L142.92 343.34 L143.70 341.00 L144.48 340.22 L146.04 339.44 L147.60 339.44 L149.16 340.22 L149.94 341.00 L150.72 343.34 L150.72 350.36 M150.72 344.90 L159.30 339.44 M145.26 323.84 L143.70 325.40 L142.92 327.74 L142.92 330.86 L143.70 333.20 L145.26 334.76 L146.82 334.76 L148.38 333.98 L149.16 333.20 L149.94 331.64 L151.50 326.96 L152.28 325.40 L153.06 324.62 L154.62 323.84 L156.96 323.84 L158.52 325.40 L159.30 327.74 L159.30 330.86 L158.52 333.20 L156.96 334.76" fill="none" stroke="#ff0000" stroke-width="1.25" stroke-linecap="round" stroke-linejoin="round"/>
<path d="M208.10 378.87 L209.66 380.43 L212.00 381.99 L215.12 383.55 L219.02 384.33 L222.14 384.33 L226.04 383.55 L229.16 381.99 L231.50 380.43 L233.06 378.87 M211.22 373.41 L227.60 373.41 M227.60 373.41 L227.60 364.05 M215.12 349.23 L213.56 350.01 L212.00 351.57 L211.22 353.13 L211.22 356.25 L212.00 357.81 L213.56 359.37 L215.12 360.15 L217.46 360.93 L221.36 360.93 L223.70 360.15 L225.26 359.37 L226.82 357.81 L227.60 356.25 L227.60 353.13 L226.82 351.57 L225.26 350.01 L223.70 349.23 M211.22 343.77 L227.60 343.77 M211.22 343.77 L211.22 338.31 L212.00 335.97 L213.56 334.41 L215.12 333.63 L217.46 332.85 L221.36 332.85 L223.70 333.63 L225.26 334.41 L226.82 335.97 L227.60 338.31 L227.60 343.77 M211.22 327.39 L227.60 327.39 M211.22 327.39 L227.60 321.15 M211.22 314.91 L227.60 321.15 M211.22 314.91 L227.60 314.91 M226.82 307.11 L227.60 307.89 L226.82 308.67 L226.04 307.89 L226.82 307.11 L228.38 307.11 L229.94 307.89 L230.72 308.67 M211.22 288.39 L227.60 288.39 M219.02 288.39 L217.46 286.83 L216.68 285.27 L216.68 282.93 L217.46 281.37 L219.02 279.81 L221.36 279.03 L222.92 279.03 L225.26 279.81 L226.82 281.37 L227.60 282.93 L227.60 285.27 L226.82 286.83 L225.26 288.39 M218.24 273.57 L218.24 259.53 M222.92 273.57 L222.92 259.53 M214.34 251.73 L213.56 250.17 L211.22 247.83 L227.60 247.83 M208.10 238.47 L209.66 236.91 L212.00 235.35 L215.12 233.79 L219.02 233.01 L222.14 233.01 L226.04 233.79 L229.16 235.35 L231.50 236.91 L233.06 238.47 M211.22 227.55 L227.60 216.63 M211.22 216.63 L227.60 227.55 M214.34 209.61 L213.56 208.05 L211.22 205.71 L227.60 205.71 M226.04 194.79 L226.82 195.57 L227.60 194.79 L226.82 194.01 L226.04 194.79 M211.22 186.99 L211.22 178.41 L217.46 183.09 L217.46 180.75 L218.24 179.19 L219.02 178.41 L221.36 177.63 L222.92 177.63 L225.26 178.41 L226.82 179.97 L227.60 182.31 L227.60 184.65 L226.82 186.99 L226.04 187.77 L224.48 188.55 M205.76 172.95 L205.17 172.95 L204.00 172.36 L203.42 171.78 L202.83 170.61 L202.83 168.27 L203.42 167.10 L204.00 166.51 L205.17 165.93 L206.34 165.93 L207.51 166.51 L209.27 167.68 L215.12 173.53 L215.12 165.34" fill="none" stroke="#0000ff" stroke-width="1.25" stroke-linecap="round" stroke-linejoin="round"/>
</svg>
</body></html>
